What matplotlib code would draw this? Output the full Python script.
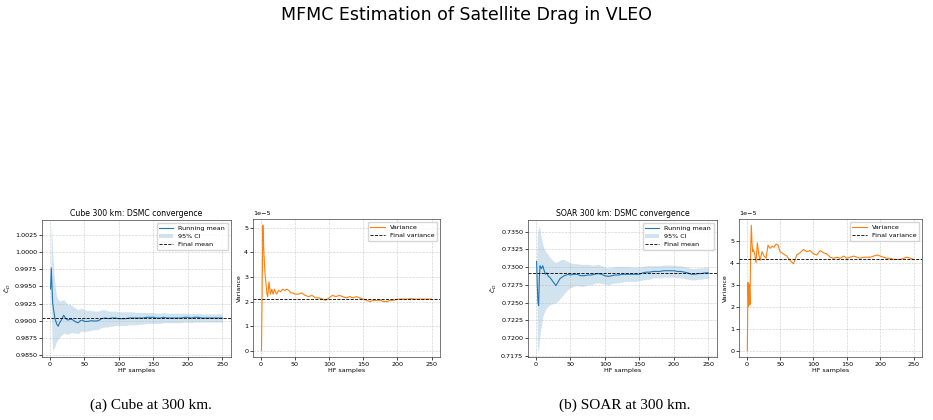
#!/usr/bin/env python3
"""
Script: plot.py
Description: MFMC convergence of DSMC drag estimates (Cube and SOAR at 300 km)

Usage:
    python plot.py
"""
import numpy as np
import matplotlib
matplotlib.use("Agg")
import matplotlib.pyplot as plt

# ==============================================================================
# Data
# ==============================================================================
hf_samples = [1, 2, 3, 4, 5, 6, 7, 8, 9, 10,
              12, 14, 16, 18, 20,
              23, 26, 29, 32, 35, 38, 41, 44, 47, 50,
              55, 60, 65, 70, 75, 80, 85, 90, 95, 100,
              105, 110, 115, 120, 125, 130, 135, 140, 145, 150,
              155, 160, 165, 170, 175, 180, 185, 190, 195, 200,
              205, 210, 215, 220, 225, 230, 235, 240, 245, 250]

# Cube 300 km
cube_mean = [0.99465, 0.99770, 0.99500, 0.99260, 0.99180, 0.99120, 0.99050, 0.99010, 0.98980, 0.98950,
             0.98920, 0.98970, 0.99000, 0.99040, 0.99080,
             0.99030, 0.99010, 0.99020, 0.99020, 0.99000, 0.98980, 0.98970, 0.99000, 0.99010, 0.98990,
             0.98990, 0.99000, 0.98995, 0.99000, 0.99030, 0.99040, 0.99030, 0.99040, 0.99040, 0.99030,
             0.99030, 0.99030, 0.99040, 0.99040, 0.99040, 0.99040, 0.99040, 0.99050, 0.99050, 0.99050,
             0.99040, 0.99040, 0.99050, 0.99040, 0.99040, 0.99040, 0.99040, 0.99040, 0.99050, 0.99050,
             0.99040, 0.99050, 0.99050, 0.99040, 0.99040, 0.99040, 0.99040, 0.99040, 0.99040, 0.99040]
cube_ci_hi = [0.99465, 1.00400, 1.00250, 1.00000, 0.99850, 0.99680, 0.99570, 0.99480, 0.99400, 0.99350,
              0.99310, 0.99290, 0.99290, 0.99300, 0.99310,
              0.99270, 0.99240, 0.99240, 0.99220, 0.99200, 0.99180, 0.99160, 0.99180, 0.99180, 0.99160,
              0.99150, 0.99150, 0.99140, 0.99140, 0.99160, 0.99160, 0.99140, 0.99140, 0.99140, 0.99130,
              0.99130, 0.99130, 0.99130, 0.99130, 0.99120, 0.99120, 0.99120, 0.99120, 0.99120, 0.99120,
              0.99110, 0.99110, 0.99120, 0.99110, 0.99110, 0.99110, 0.99110, 0.99110, 0.99110, 0.99110,
              0.99100, 0.99110, 0.99110, 0.99100, 0.99100, 0.99100, 0.99100, 0.99100, 0.99100, 0.99100]
cube_ci_lo = [0.99465, 0.99140, 0.98750, 0.98560, 0.98580, 0.98600, 0.98620, 0.98650, 0.98680, 0.98700,
              0.98730, 0.98760, 0.98780, 0.98800, 0.98820,
              0.98810, 0.98800, 0.98820, 0.98830, 0.98820, 0.98820, 0.98810, 0.98840, 0.98850, 0.98840,
              0.98850, 0.98860, 0.98870, 0.98870, 0.98900, 0.98910, 0.98910, 0.98920, 0.98930, 0.98930,
              0.98930, 0.98930, 0.98940, 0.98940, 0.98940, 0.98950, 0.98950, 0.98960, 0.98960, 0.98960,
              0.98960, 0.98960, 0.98970, 0.98970, 0.98970, 0.98970, 0.98970, 0.98970, 0.98980, 0.98980,
              0.98970, 0.98980, 0.98980, 0.98980, 0.98980, 0.98980, 0.98980, 0.98980, 0.98980, 0.98980]
cube_final_mean = 0.99043
cube_var = [0.0, 2.6, 5.1, 4.3, 3.7, 3.2, 2.9, 2.6, 2.3, 2.2,
            2.8, 2.3, 2.5, 2.3, 2.5,
            2.3, 2.45, 2.4, 2.5, 2.45, 2.5, 2.45, 2.35, 2.35, 2.3,
            2.3, 2.35, 2.25, 2.2, 2.25, 2.15, 2.15, 2.1, 2.05, 2.15,
            2.25, 2.2, 2.25, 2.2, 2.15, 2.2, 2.15, 2.2, 2.15, 2.1,
            2.05, 2.0, 2.05, 2.05, 2.05, 2.0, 2.0, 2.05, 2.05, 2.1,
            2.1, 2.1, 2.1, 2.12, 2.1, 2.1, 2.1, 2.1, 2.1, 2.1]  # x 1e-5
cube_final_var = 2.1  # x 1e-5

# SOAR 300 km
soar_mean = [0.7308, 0.7275, 0.7250, 0.7246, 0.7285, 0.7302, 0.7300, 0.7298, 0.7300, 0.7302,
             0.7295, 0.7290, 0.7292, 0.7287, 0.7286,
             0.7282, 0.7278, 0.7274, 0.7279, 0.7284, 0.7286, 0.7288, 0.7289, 0.7290, 0.7289,
             0.7290, 0.7290, 0.7288, 0.7288, 0.7289, 0.7289, 0.7290, 0.7291, 0.7290, 0.7288,
             0.7287, 0.7288, 0.7289, 0.7289, 0.7290, 0.7290, 0.7290, 0.7290, 0.7290, 0.7290,
             0.7292, 0.7293, 0.7293, 0.7294, 0.7294, 0.7294, 0.7295, 0.7295, 0.7295, 0.7295,
             0.7294, 0.7294, 0.7293, 0.7292, 0.7290, 0.7290, 0.7291, 0.7291, 0.7292, 0.7292]
soar_ci_hi = [0.7308, 0.7345, 0.7352, 0.7356, 0.7358, 0.7352, 0.7345, 0.7340, 0.7336, 0.7332,
              0.7326, 0.7322, 0.7320, 0.7317, 0.7314,
              0.7311, 0.7308, 0.7307, 0.7308, 0.7310, 0.7311, 0.7311, 0.7309, 0.7308, 0.7306,
              0.7305, 0.7305, 0.7304, 0.7304, 0.7304, 0.7303, 0.7303, 0.7304, 0.7302, 0.7300,
              0.7299, 0.7300, 0.7301, 0.7301, 0.7301, 0.7301, 0.7301, 0.7300, 0.7300, 0.7300,
              0.7301, 0.7302, 0.7302, 0.7302, 0.7302, 0.7302, 0.7303, 0.7303, 0.7303, 0.7303,
              0.7302, 0.7302, 0.7301, 0.7300, 0.7298, 0.7298, 0.7299, 0.7299, 0.7300, 0.7300]
soar_ci_lo = [0.7308, 0.7190, 0.7184, 0.7183, 0.7195, 0.7205, 0.7212, 0.7218, 0.7224, 0.7230,
              0.7236, 0.7240, 0.7243, 0.7245, 0.7247,
              0.7248, 0.7249, 0.7250, 0.7252, 0.7256, 0.7259, 0.7263, 0.7266, 0.7269, 0.7271,
              0.7273, 0.7274, 0.7273, 0.7273, 0.7275, 0.7275, 0.7277, 0.7278, 0.7277, 0.7276,
              0.7275, 0.7277, 0.7278, 0.7278, 0.7279, 0.7280, 0.7280, 0.7280, 0.7280, 0.7281,
              0.7282, 0.7283, 0.7283, 0.7285, 0.7285, 0.7285, 0.7286, 0.7286, 0.7286, 0.7286,
              0.7285, 0.7285, 0.7284, 0.7283, 0.7282, 0.7282, 0.7283, 0.7283, 0.7284, 0.7284]
soar_final_mean = 0.72918
soar_var = [0.0, 3.1, 2.0, 3.0, 2.1, 4.6, 5.7, 4.9, 4.5, 4.6,
            4.4, 4.0, 4.9, 4.4, 4.1,
            4.5, 4.3, 4.2, 4.8, 4.65, 4.75, 4.7, 4.85, 4.8, 4.5,
            4.4, 4.3, 4.1, 3.95, 4.35, 4.45, 4.6, 4.5, 4.55, 4.4,
            4.35, 4.55, 4.45, 4.4, 4.25, 4.2, 4.25, 4.2, 4.3, 4.2,
            4.25, 4.3, 4.25, 4.2, 4.25, 4.25, 4.25, 4.3, 4.35, 4.3,
            4.25, 4.2, 4.2, 4.15, 4.15, 4.15, 4.2, 4.25, 4.2, 4.15]  # x 1e-5
soar_final_var = 4.15  # x 1e-5

panel_titles = ["Cube 300 km: DSMC convergence", "SOAR 300 km: DSMC convergence"]
captions = ["(a) Cube at 300 km.", "(b) SOAR at 300 km."]
suptitle = "MFMC Estimation of Satellite Drag in VLEO"

# ==============================================================================
# Plotting
# ==============================================================================
FS = 4.6
plt.rcParams.update({
    "font.size": FS,
    "axes.linewidth": 0.5,
    "axes.edgecolor": "0.25",
    "xtick.major.width": 0.5,
    "ytick.major.width": 0.5,
    "xtick.major.size": 2,
    "ytick.major.size": 2,
    "xtick.major.pad": 1.5,
    "ytick.major.pad": 1.5,
    "xtick.labelsize": FS,
    "ytick.labelsize": FS,
})


def mean_panel(ax, mean, lo, hi, final, title, ylim):
    x = np.array(hf_samples)
    ax.plot(x, mean, color="C0", lw=0.8, label="Running mean")
    ax.fill_between(x, lo, hi, color="C0", alpha=0.2, lw=0, label="95% CI")
    ax.axhline(final, color="k", ls="--", lw=0.6, label="Final mean")
    ax.set_title(title, fontsize=5.6, pad=3)
    ax.set_xlabel("HF samples", fontsize=FS, labelpad=1)
    ax.set_ylabel(r"$\hat{C}_D$", fontsize=FS, labelpad=1.5)
    ax.set_ylim(*ylim)
    ax.grid(True, ls="--", lw=0.45, alpha=0.6)
    ax.legend(loc="upper right", fontsize=FS, handlelength=2.2, borderpad=0.4,
              labelspacing=0.4, framealpha=0.8, edgecolor="0.8")


def var_panel(ax, var, final):
    x = np.array(hf_samples)
    ax.plot(x, np.array(var) * 1e-5, color="C1", lw=0.8, label="Variance")
    ax.axhline(final * 1e-5, color="k", ls="--", lw=0.6, label="Final variance")
    ax.set_xlabel("HF samples", fontsize=FS, labelpad=1)
    ax.set_ylabel("Variance", fontsize=FS, labelpad=1.5)
    ax.yaxis.get_offset_text().set_fontsize(FS)
    ax.grid(True, ls="--", lw=0.45, alpha=0.6)
    ax.legend(loc="upper right", fontsize=FS, handlelength=2.2, borderpad=0.4,
              labelspacing=0.4, framealpha=0.8, edgecolor="0.8")


fig = plt.figure(figsize=(9.33, 4.2), dpi=100)
fig.suptitle(suptitle, fontsize=12.5, y=0.985)

W, H = 933.0, 420.0
ax1 = fig.add_axes([42 / W, 1 - 357 / H, 189 / W, 137 / H])
ax2 = fig.add_axes([253 / W, 1 - 357 / H, 187 / W, 138 / H])
ax3 = fig.add_axes([528 / W, 1 - 357 / H, 189 / W, 137 / H])
ax4 = fig.add_axes([739 / W, 1 - 357 / H, 183 / W, 138 / H])

mean_panel(ax1, cube_mean, cube_ci_lo, cube_ci_hi, cube_final_mean,
           panel_titles[0], (0.98471, 1.00469))
var_panel(ax2, cube_var, cube_final_var)
mean_panel(ax3, soar_mean, soar_ci_lo, soar_ci_hi, soar_final_mean,
           panel_titles[1], (0.71736, 0.73664))
var_panel(ax4, soar_var, soar_final_var)

for ax in (ax1, ax2, ax3, ax4):
    ax.set_xticks([0, 50, 100, 150, 200, 250])
ax1.set_yticks(np.arange(0.9850, 1.0026, 0.0025))
ax3.set_yticks(np.arange(0.7175, 0.7351, 0.0025))
ax1.yaxis.set_major_formatter(matplotlib.ticker.FormatStrFormatter("%.4f"))
ax3.yaxis.set_major_formatter(matplotlib.ticker.FormatStrFormatter("%.4f"))

fig.text(151 / W, 1 - 405 / H, captions[0], family="Liberation Serif",
         fontsize=11, ha="center", va="center")
fig.text(625 / W, 1 - 405 / H, captions[1], family="Liberation Serif",
         fontsize=11, ha="center", va="center")

fig.savefig("out.png", dpi=100)
